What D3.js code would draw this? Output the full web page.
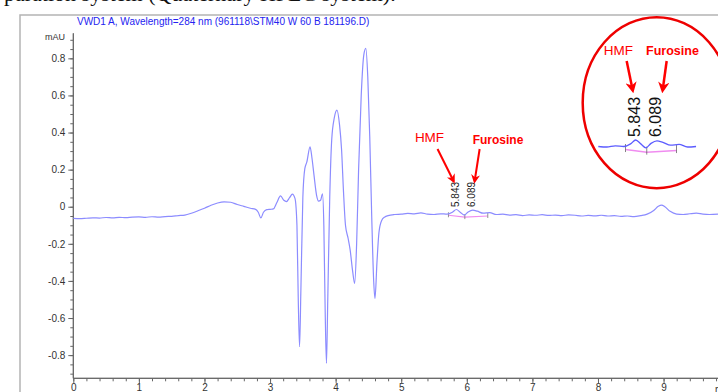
<!DOCTYPE html>
<html>
<head>
<meta charset="utf-8">
<script src="https://cdn.jsdelivr.net/npm/d3@7"></script>
<style>
  body { margin: 0; background: #fff; }
  svg { display: block; }
</style>
</head>
<body>
<div id="chart"></div>
<script>
let font = "Liberation Sans, Arial, sans-serif"

// retention time (min) and signal (mAU)
let zeit = [0.00, 0.10, 0.20, 0.30, 0.40, 0.50, 0.60, 0.70, 0.80, 0.90,
    1.00, 1.10, 1.20, 1.30, 1.40, 1.50, 1.60, 1.70, 1.80, 1.90,
    2.00, 2.10, 2.20, 2.30, 2.40, 2.50, 2.60, 2.70, 2.78, 2.82,
    2.86, 2.90, 2.95, 3.00, 3.05, 3.10, 3.16, 3.21, 3.25, 3.30,
    3.34, 3.38, 3.41, 3.43, 3.45, 3.47, 3.50, 3.53, 3.56, 3.61,
    3.64, 3.67, 3.71, 3.74, 3.77, 3.80, 3.82, 3.84, 3.86, 3.88,
    3.91, 3.94, 3.98, 4.02, 4.06, 4.09, 4.12, 4.15, 4.19, 4.22,
    4.26, 4.29, 4.32, 4.35, 4.39, 4.43, 4.46, 4.49, 4.52, 4.55,
    4.58, 4.60, 4.63, 4.66, 4.70, 4.75, 4.80, 4.90, 5.00, 5.10,
    5.20, 5.30, 5.40, 5.50, 5.60, 5.70, 5.78, 5.84, 5.90, 5.96,
    6.02, 6.09, 6.16, 6.25, 6.35, 6.45, 6.55, 6.65, 6.75, 6.85,
    6.95, 7.05, 7.15, 7.25, 7.35, 7.45, 7.55, 7.65, 7.75, 7.85,
    7.95, 8.05, 8.15, 8.25, 8.35, 8.45, 8.55, 8.65, 8.75, 8.85,
    8.92, 8.97, 9.02, 9.10, 9.20, 9.30, 9.40, 9.50, 9.60, 9.70, 9.83]

let signal = [-0.063, -0.064, -0.062, -0.060, -0.061, -0.058, -0.060, -0.057, -0.059, -0.056,
    -0.055, -0.057, -0.054, -0.056, -0.053, -0.052, -0.048, -0.045, -0.035, -0.022,
    -0.008, 0.008, 0.020, 0.026, 0.024, 0.012, 0.002, -0.008, -0.014, -0.030,
    -0.060, -0.030, -0.016, -0.014, -0.012, 0.020, 0.058, 0.035, 0.028, 0.050,
    0.068, 0.045, -0.100, -0.500, -0.755, -0.450, 0.050, 0.205, 0.240, 0.323,
    0.260, 0.170, 0.060, 0.030, 0.035, 0.070, -0.100, -0.550, -0.844, -0.500,
    0.050, 0.360, 0.480, 0.521, 0.440, 0.310, 0.080, -0.100, -0.170, -0.230,
    -0.350, -0.413, -0.200, 0.200, 0.600, 0.820, 0.854, 0.700, 0.380, -0.050,
    -0.400, -0.494, -0.300, -0.140, -0.075, -0.055, -0.048, -0.042, -0.040, -0.036,
    -0.038, -0.033, -0.040, -0.042, -0.038, -0.040, -0.030, -0.015, -0.030, -0.045,
    -0.028, -0.018, -0.024, -0.035, -0.032, -0.042, -0.040, -0.045, -0.043, -0.048,
    -0.044, -0.046, -0.043, -0.047, -0.045, -0.048, -0.044, -0.046, -0.050, -0.047,
    -0.049, -0.046, -0.050, -0.048, -0.052, -0.050, -0.053, -0.048, -0.040, -0.020,
    0.002, 0.009, 0.000, -0.025, -0.040, -0.042, -0.038, -0.035, -0.040, -0.042, -0.040]

// integrated peaks
let peakNamen = ["HMF", "Furosine"]
let peakZeiten = [5.843, 6.089]
let peakLabels = ["5.843", "6.089"]
// integration baseline: start, split, end
let basisZeiten = [5.72, 5.97, 6.32]
let basisWerte = [-0.046, -0.056, -0.050]

let yTicks = [-0.8, -0.6, -0.4, -0.2, 0, 0.2, 0.4, 0.6, 0.8]
let xTicks = [0, 1, 2, 3, 4, 5, 6, 7, 8, 9]

let titel = "VWD1 A, Wavelength=284 nm (961118\\STM40 W 60 B 181196.D)"

function zeichne() {
    let width = 718, height = 392;
    let daten = zeit.map(function (t, i) { return { t: t, v: signal[i] }; });

    let svg = d3.select("#chart").append("svg")
        .attr("width", width)
        .attr("height", height);

    let defs = svg.append("defs");
    defs.append("marker")
        .attr("id", "pfeil")
        .attr("viewBox", "0 0 10 10")
        .attr("refX", 7).attr("refY", 5)
        .attr("markerWidth", 4.5).attr("markerHeight", 4.5)
        .attr("orient", "auto")
        .append("path")
        .attr("d", "M0,0 L10,5 L0,10 L3,5 z")
        .attr("fill", "#ff0000");

    // cut-off line of the surrounding document
    svg.append("text")
        .attr("x", 4).attr("y", 1)
        .attr("font-family", "Liberation Serif, Times New Roman, serif")
        .attr("font-size", "22px")
        .attr("fill", "#111")
        .text("paration system (Quaternary HPLC system).");

    // frame of the report
    svg.append("rect")
        .attr("x", 20).attr("y", 15)
        .attr("width", 720).attr("height", 400)
        .attr("fill", "none")
        .attr("stroke", "#b4b4b4")
        .attr("stroke-width", 1.5);

    svg.append("text")
        .attr("x", 77).attr("y", 25)
        .attr("font-family", font)
        .attr("font-size", "10px")
        .attr("fill", "#2323f0")
        .text(titel);

    // scales
    let x = d3.scaleLinear().domain([0, 9.83]).range([73.3, 718]);
    let y = d3.scaleLinear().domain([-0.925, 0.935]).range([378.3, 33.3]);

    // y axis
    let yAchse = svg.append("g").attr("transform", "translate(" + x(0) + ",0)");
    yAchse.call(d3.axisLeft(y).tickValues(d3.range(-0.9, 0.91, 0.05)).tickSize(3).tickFormat(""));
    yAchse.append("g").call(d3.axisLeft(y).tickValues(yTicks).tickSize(5).tickPadding(3)
        .tickFormat(function (d) { return d === 0 ? "0" : d.toFixed(1); }));
    yAchse.selectAll(".domain").attr("stroke", "#666");
    yAchse.selectAll("line").attr("stroke", "#666");
    yAchse.selectAll("text").attr("font-family", font).attr("font-size", "10px").attr("fill", "#333");
    yAchse.selectAll(".domain").attr("d", "M0," + y.range()[0] + "V" + y.range()[1]);

    svg.append("text")
        .attr("x", 65).attr("y", 38)
        .attr("text-anchor", "end")
        .attr("dominant-baseline", "middle")
        .attr("font-family", font)
        .attr("font-size", "9px")
        .attr("fill", "#333")
        .text("mAU");

    // x axis
    let xAchse = svg.append("g").attr("transform", "translate(0," + y.range()[0] + ")");
    xAchse.call(d3.axisBottom(x).tickValues(d3.range(0, 9.81, 0.2)).tickSize(3).tickFormat(""));
    xAchse.append("g").call(d3.axisBottom(x).tickValues(xTicks).tickSize(5).tickPadding(1)
        .tickFormat(d3.format("d")));
    xAchse.selectAll(".domain").attr("stroke", "#666");
    xAchse.selectAll("line").attr("stroke", "#666");
    xAchse.selectAll("text").attr("font-family", font).attr("font-size", "10px").attr("fill", "#333");
    xAchse.selectAll(".domain").attr("d", "M" + x.range()[0] + ",0H" + x.range()[1]);
    svg.append("text")
        .attr("x", x(9.83) - 3).attr("y", y.range()[0] + 15)
        .attr("font-family", font).attr("font-size", "10px").attr("fill", "#333")
        .text("min");

    // chromatogram
    let linie = d3.line()
        .x(function (d) { return x(d.t); })
        .y(function (d) { return y(d.v); })
        .curve(d3.curveMonotoneX);

    // integration baseline
    let basis = basisZeiten.map(function (t, i) { return { t: t, v: basisWerte[i] }; });
    svg.append("path")
        .attr("d", d3.line().x(function (d) { return x(d.t); }).y(function (d) { return y(d.v); })(basis))
        .attr("fill", "none")
        .attr("stroke", "#f08cf0")
        .attr("stroke-width", 1.2);
    svg.selectAll(".basistick").data(basis).enter().append("line")
        .attr("class", "basistick")
        .attr("x1", function (d) { return x(d.t); }).attr("x2", function (d) { return x(d.t); })
        .attr("y1", function (d) { return y(d.v) - 3; }).attr("y2", function (d) { return y(d.v) + 2; })
        .attr("stroke", "#777").attr("stroke-width", 0.8);

    svg.append("path")
        .datum(daten)
        .attr("d", linie)
        .attr("fill", "none")
        .attr("stroke", "#8c8cff")
        .attr("stroke-width", 1.2);

    // peak labels (rotated)
    svg.selectAll(".rt").data(peakZeiten).enter().append("text")
        .attr("class", "rt")
        .attr("transform", function (d) { return "translate(" + x(d) + "," + 207 + ") rotate(-90)"; })
        .attr("dominant-baseline", "middle")
        .attr("font-family", font)
        .attr("font-size", "10px")
        .attr("fill", "#222")
        .text(function (d, i) { return peakLabels[i]; });

    // red annotations
    let annot = [{ dx: -27, adx: -3, sdx: -16, anchor: "middle", gewicht: "normal", groesse: "13.5px" },
                 { dx: 0, adx: 2, sdx: 5, anchor: "start", gewicht: "bold", groesse: "12px" }];
    peakZeiten.forEach(function (rt, i) {
        let a = annot[i];
        svg.append("text")
            .attr("x", x(rt) + a.dx).attr("y", 142 + i * 2)
            .attr("text-anchor", a.anchor)
            .attr("font-family", font)
            .attr("font-size", a.groesse)
            .attr("font-weight", a.gewicht)
            .attr("fill", "#ff0000")
            .text(peakNamen[i]);
        svg.append("line")
            .attr("x1", x(rt) + a.adx + a.sdx).attr("y1", 149)
            .attr("x2", x(rt) + a.adx).attr("y2", 181)
            .attr("stroke", "#ff0000")
            .attr("stroke-width", 2)
            .attr("marker-end", "url(#pfeil)");
    });

    // zoomed inset in the red circle
    let xI = d3.scaleLinear().domain([5.40, 6.60]).range([598.3, 700.3]);
    let yI = d3.scaleLinear().domain([-0.042, -0.015]).range([147, 140]);
    let inset = svg.append("g");
    let linieI = d3.line()
        .x(function (d) { return xI(d.t); })
        .y(function (d) { return yI(d.v); })
        .curve(d3.curveMonotoneX);
    inset.append("path")
        .attr("d", d3.line().x(function (d) { return xI(d.t); }).y(function (d) { return yI(d.v) + 1.5; })(basis))
        .attr("fill", "none")
        .attr("stroke", "#f08cf0")
        .attr("stroke-width", 1.5);
    inset.selectAll(".basistickI").data(basis).enter().append("line")
        .attr("x1", function (d) { return xI(d.t); }).attr("x2", function (d) { return xI(d.t); })
        .attr("y1", function (d) { return yI(d.v) - 4; }).attr("y2", function (d) { return yI(d.v) + 4; })
        .attr("stroke", "#666").attr("stroke-width", 0.8);
    inset.append("path")
        .datum(daten.filter(function (d) { return d.t >= 5.40 && d.t <= 6.60; }))
        .attr("d", linieI)
        .attr("fill", "none")
        .attr("stroke", "#5c5cff")
        .attr("stroke-width", 1.3);
    inset.selectAll(".rtI").data(peakZeiten).enter().append("text")
        .attr("transform", function (d) { return "translate(" + xI(d) + "," + 137 + ") rotate(-90)"; })
        .attr("dominant-baseline", "middle")
        .attr("font-family", font)
        .attr("font-size", "16px")
        .attr("fill", "#111")
        .text(function (d, i) { return peakLabels[i]; });
    let annotI = [{ dx: -17.5, adx: -3.3, sdx: -6, gewicht: "normal", groesse: "13.5px" },
                  { dx: 15.6, adx: 5.8, sdx: 4, gewicht: "bold", groesse: "12.5px" }];
    peakZeiten.forEach(function (rt, i) {
        let a = annotI[i];
        inset.append("text")
            .attr("x", xI(rt) + a.dx).attr("y", 55)
            .attr("text-anchor", "middle")
            .attr("font-family", font)
            .attr("font-size", a.groesse)
            .attr("font-weight", a.gewicht)
            .attr("fill", "#ff0000")
            .text(peakNamen[i]);
        inset.append("line")
            .attr("x1", xI(rt) + a.adx + a.sdx).attr("y1", 61)
            .attr("x2", xI(rt) + a.adx).attr("y2", 90)
            .attr("stroke", "#ff0000")
            .attr("stroke-width", 2.5)
            .attr("marker-end", "url(#pfeil)");
    });
    svg.append("ellipse")
        .attr("cx", 656.7).attr("cy", 102.7)
        .attr("rx", 74).attr("ry", 85.5)
        .attr("fill", "none")
        .attr("stroke", "#ee0000")
        .attr("stroke-width", 2.5);
}

zeichne();
</script>
</body>
</html>
